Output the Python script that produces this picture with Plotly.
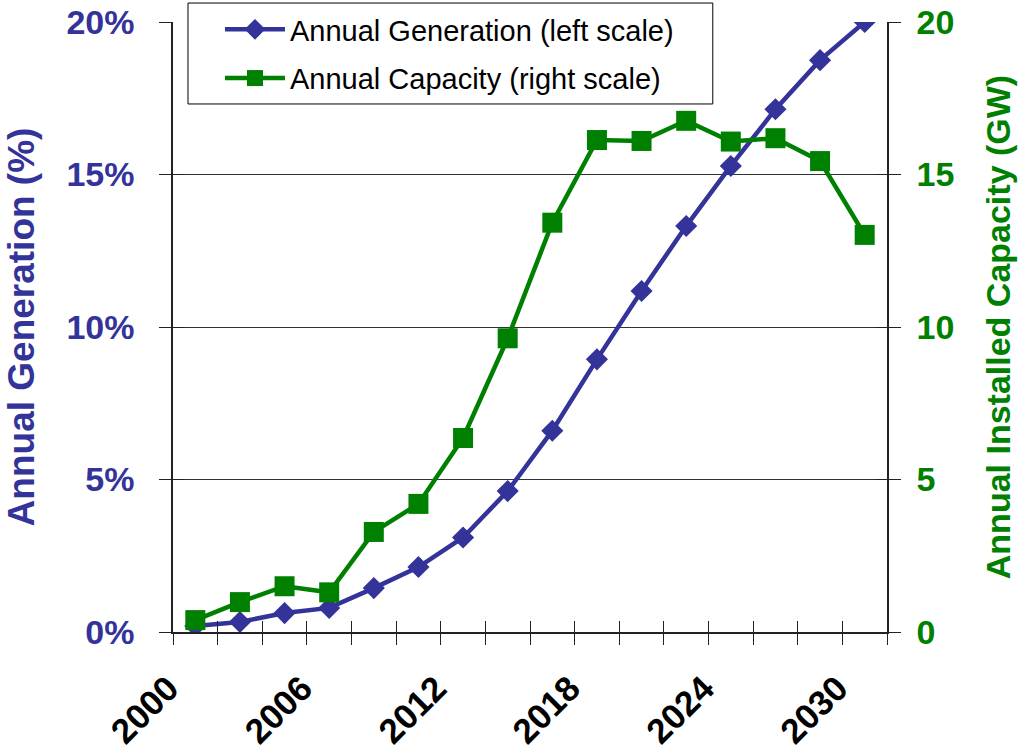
import plotly.graph_objects as go

years = [2000, 2002, 2004, 2006, 2008, 2010, 2012, 2014, 2016, 2018,
         2020, 2022, 2024, 2026, 2028, 2030]
generation_pct = [0.2, 0.33, 0.62, 0.79, 1.44, 2.13, 3.1, 4.62, 6.6, 8.94,
                  11.18, 13.31, 15.28, 17.14, 18.75, 20.0]
capacity_gw = [0.39, 0.98, 1.5, 1.3, 3.28, 4.2, 6.36, 9.63, 13.42, 16.13,
               16.1, 16.76, 16.08, 16.19, 15.44, 13.02]
x_tick_years = [2000, 2006, 2012, 2018, 2024, 2030]
x_tick_labels = ["2000", "2006", "2012", "2018", "2024", "2030"]
x_boundaries = [1999 + 2 * i for i in range(17)]
left_ticks = [0, 5, 10, 15, 20]
left_tick_labels = ["0%", "5%", "10%", "15%", "20%"]
right_ticks = [0, 5, 10, 15, 20]

BLUE = "#333399"
GREEN = "#008000"
FONT = "Arial, Liberation Sans, sans-serif"
TICKC = "#222222"

fig = go.Figure()
fig.add_trace(go.Scatter(
    x=years, y=generation_pct, name="Annual Generation (left scale)",
    mode="lines+markers", line=dict(color=BLUE, width=4.5),
    marker=dict(symbol="diamond", size=17, color=BLUE),
    legendgroup="g1", xaxis="x", yaxis="y"))
fig.add_trace(go.Scatter(
    x=years, y=capacity_gw, name="Annual Capacity (right scale)",
    mode="lines+markers", line=dict(color=GREEN, width=4.5),
    marker=dict(symbol="square", size=20, color=GREEN),
    legendgroup="g2", xaxis="x", yaxis="y2"))
# empty helper traces so that overlay axes (inside tick halves) render
fig.add_trace(go.Scatter(x=[], y=[], showlegend=False, xaxis="x3", yaxis="y3"))
fig.add_trace(go.Scatter(x=[], y=[], showlegend=False, xaxis="x3", yaxis="y4"))

axis_line = dict(showline=True, linecolor=TICKC, linewidth=1.5)

fig.update_layout(
    width=1018, height=755,
    margin=dict(l=173, r=131, t=22, b=123, autoexpand=False),
    paper_bgcolor="white", plot_bgcolor="white",
    font=dict(family=FONT),
    xaxis=dict(
        range=[1999, 2031], tickmode="array", tickvals=x_tick_years,
        ticktext=x_tick_labels, tickangle=-45, ticks="",
        ticklabelstandoff=20, ticklabelshift=-27, automargin=False,
        ticklabeloverflow="allow",
        tickfont=dict(size=35, color="black", family=FONT, weight="bold"),
        showgrid=False, zeroline=False, **axis_line,
        minor=dict(tickmode="array", tickvals=x_boundaries, ticks="outside",
                   ticklen=11, tickcolor=TICKC, tickwidth=1.2, showgrid=False),
    ),
    xaxis3=dict(
        range=[1999, 2031], overlaying="x", anchor="y", side="bottom",
        tickmode="array", tickvals=x_boundaries, ticks="inside", ticklen=11,
        tickcolor=TICKC, tickwidth=1.2, showticklabels=False, automargin=False,
        showgrid=False, zeroline=False, showline=False,
    ),
    yaxis=dict(
        range=[0, 20], tickmode="array", tickvals=left_ticks,
        ticktext=left_tick_labels, ticks="outside", ticklen=12,
        tickcolor=TICKC, tickwidth=1.2, ticklabelstandoff=18, automargin=False,
        ticklabeloverflow="allow",
        tickfont=dict(size=34, color=BLUE, family=FONT, weight="bold"),
        showgrid=True, gridcolor="#333333", gridwidth=1,
        zeroline=False, **axis_line,
        title=dict(text="Annual Generation (%)", standoff=20,
                   font=dict(size=37, color=BLUE, family=FONT, weight="bold")),
    ),
    yaxis3=dict(
        range=[0, 20], overlaying="y", anchor="x", side="left",
        tickmode="array", tickvals=left_ticks, ticks="inside", ticklen=12,
        tickcolor=TICKC, tickwidth=1.2, showticklabels=False, automargin=False,
        showgrid=False, zeroline=False, showline=False,
    ),
    yaxis2=dict(
        range=[0, 20], overlaying="y", side="right", anchor="x",
        tickmode="array", tickvals=right_ticks, ticks="outside", ticklen=12,
        tickcolor=TICKC, tickwidth=1.2, ticklabelstandoff=9, automargin=False,
        ticklabeloverflow="allow",
        tickfont=dict(size=34, color=GREEN, family=FONT, weight="bold"),
        showgrid=False, zeroline=False, **axis_line,
        title=dict(text="Annual Installed Capacity (GW)", standoff=33,
                   font=dict(size=34, color=GREEN, family=FONT, weight="bold")),
    ),
    yaxis4=dict(
        range=[0, 20], overlaying="y", side="right", anchor="x3",
        tickmode="array", tickvals=right_ticks, ticks="inside", ticklen=12,
        tickcolor=TICKC, tickwidth=1.2, showticklabels=False, automargin=False,
        showgrid=False, zeroline=False, showline=False,
    ),
    legend=dict(
        x=0.0658, y=1.0295, xanchor="left", yanchor="top",
        bgcolor="rgba(0,0,0,0)", borderwidth=0,
        font=dict(size=29, color="black", family=FONT),
        tracegroupgap=8, traceorder="grouped", itemwidth=60,
    ),
    shapes=[dict(type="rect", xref="paper", yref="paper",
                 x0=0.021, x1=0.756, y0=0.8656, y1=1.0311,
                 fillcolor="white", line=dict(color="black", width=1),
                 layer="above")],
    showlegend=True,
)

fig.write_html("out.html",
               config={"displayModeBar": False},
               post_script="document.body.style.margin='0';")
